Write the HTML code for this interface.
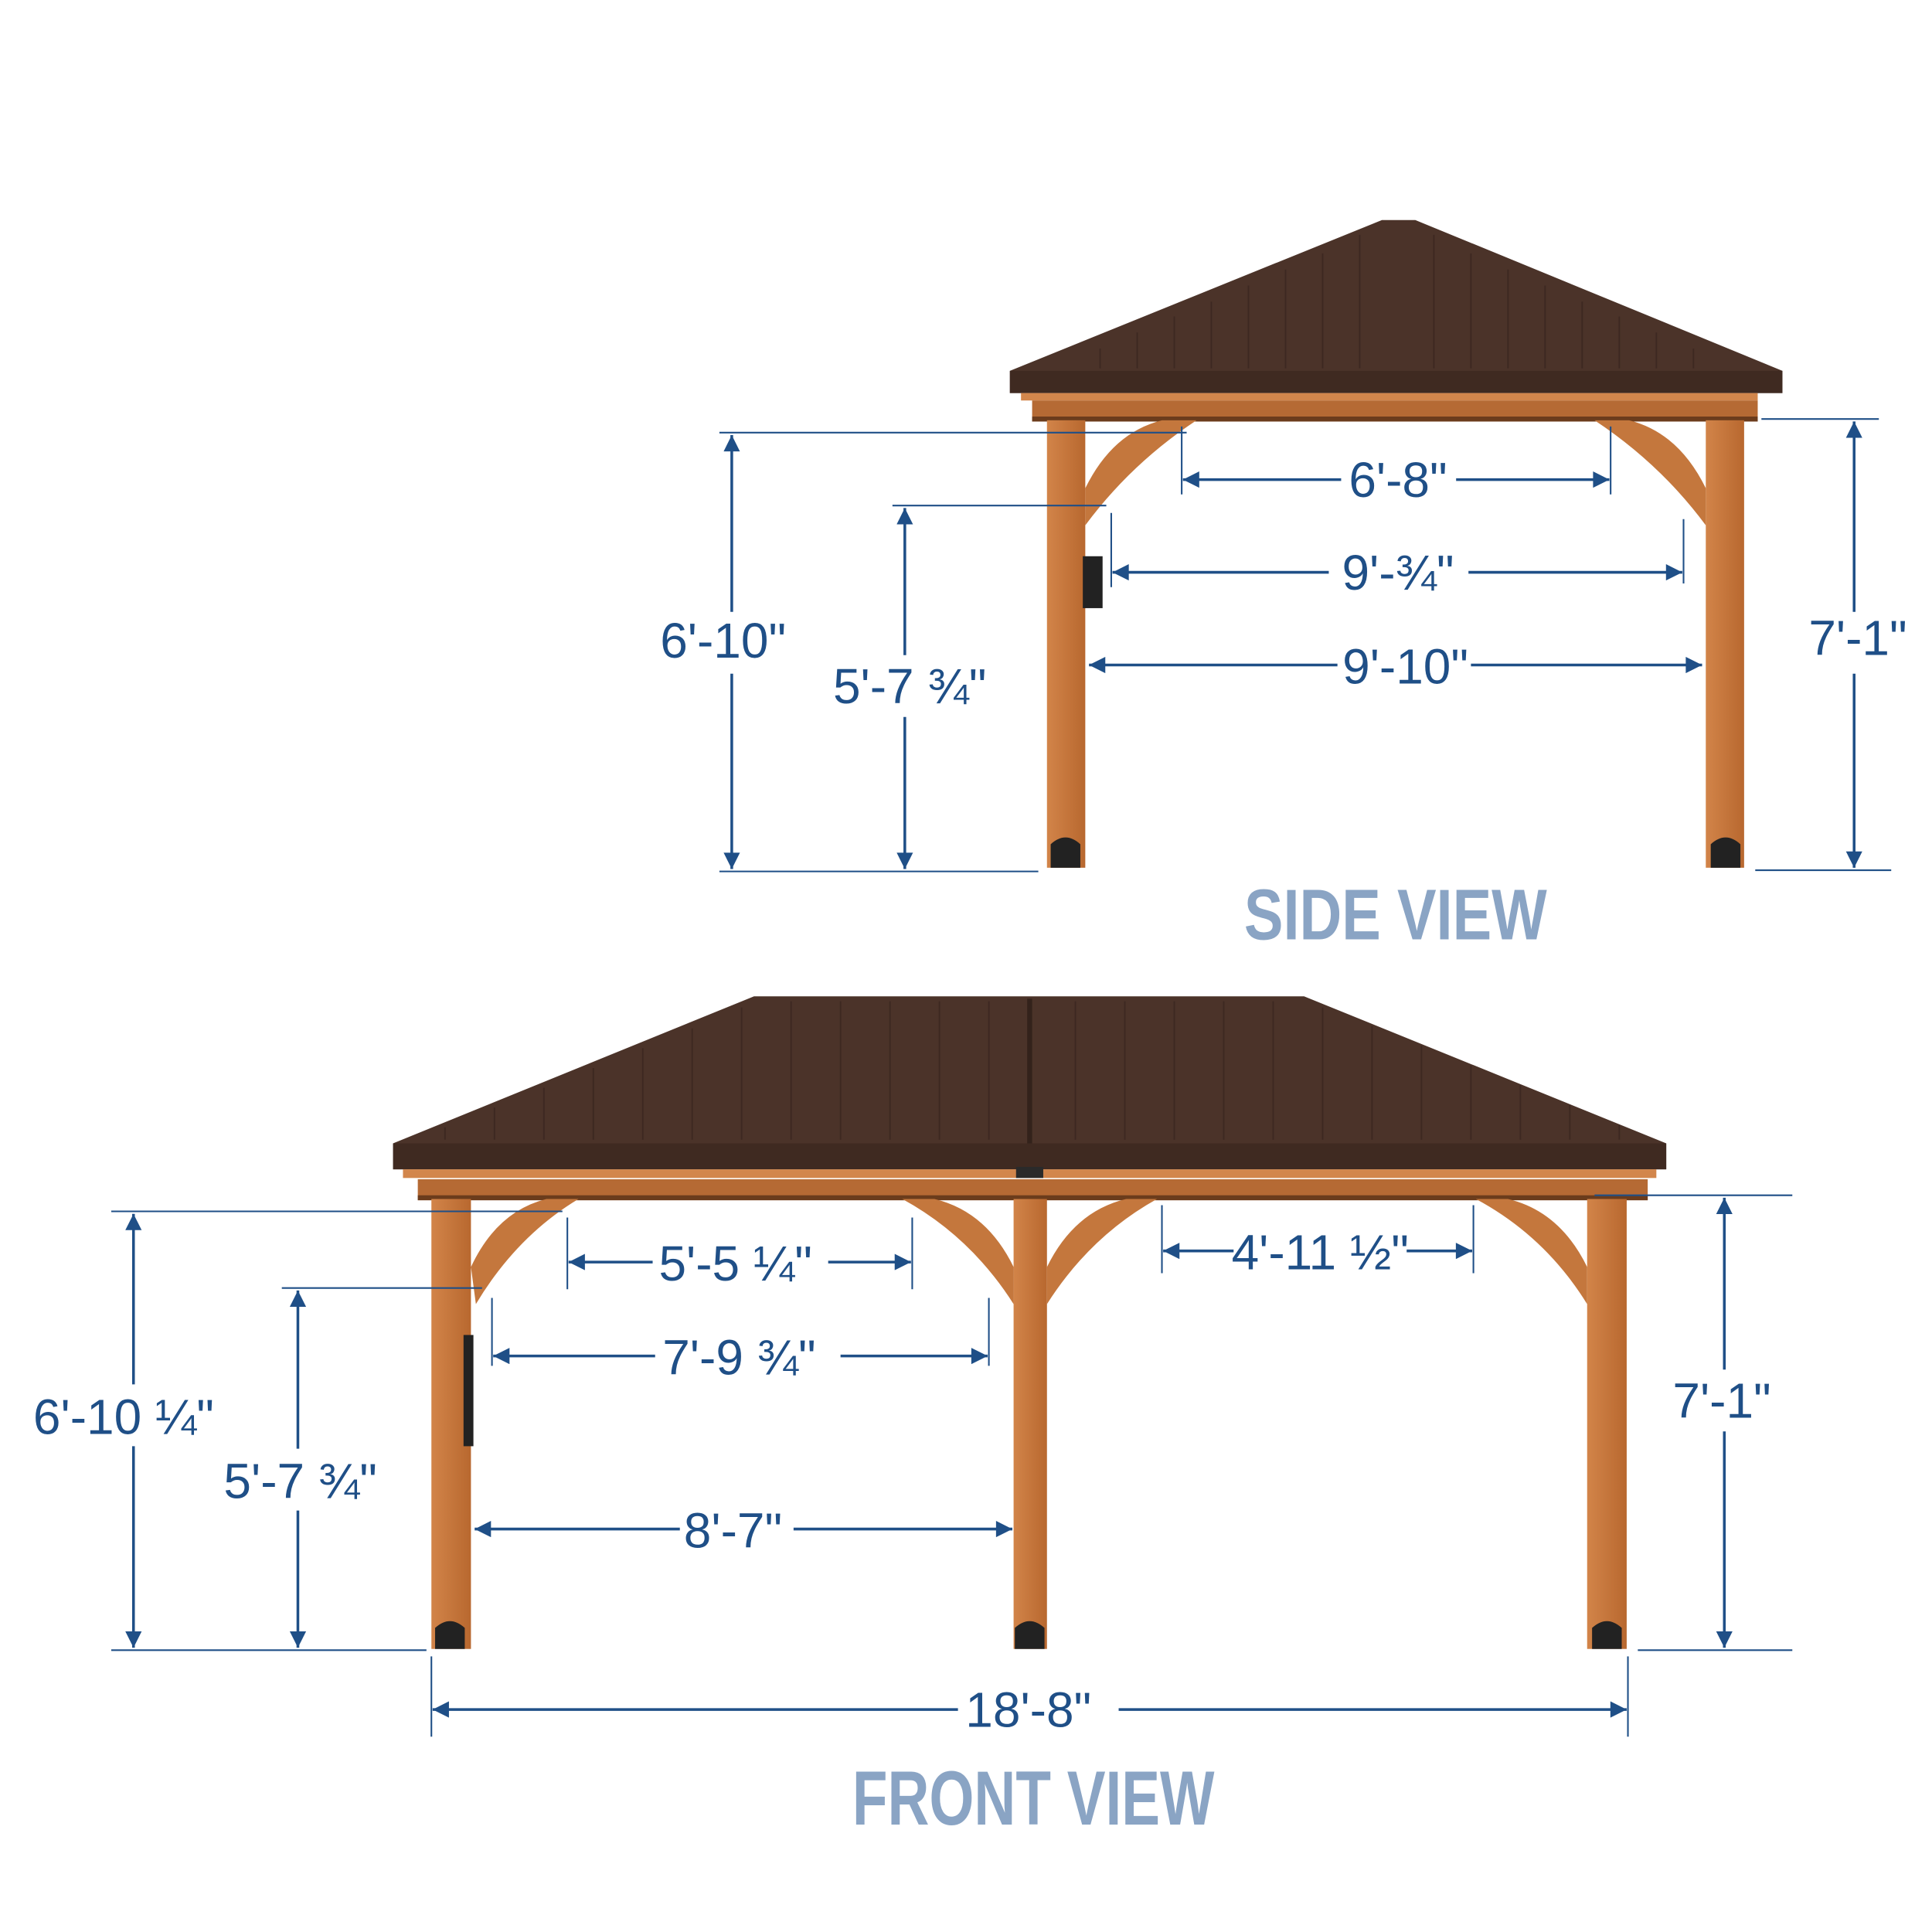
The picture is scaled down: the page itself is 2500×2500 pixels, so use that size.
<!DOCTYPE html>
<html><head><meta charset="utf-8"><style>
html,body{margin:0;padding:0;background:#fff;}
svg{display:block}
.d{font-family:"Liberation Sans Narrow","Liberation Sans",sans-serif;fill:#1f4f87;font-size:40px;text-anchor:middle}
.t{font-family:"Liberation Sans Narrow","Liberation Sans",sans-serif;font-weight:bold;fill:#8aa4c4;text-anchor:middle}
</style></head><body>
<svg width="2500" height="2500" viewBox="0 0 1563 1563" xmlns="http://www.w3.org/2000/svg">
<defs>
<marker id="a" viewBox="0 0 10 10" refX="10" refY="5" markerWidth="7" markerHeight="6" orient="auto-start-reverse"><path d="M0,0L10,5L0,10z" fill="#1f4f87"/></marker>
<linearGradient id="w" x1="0" x2="1"><stop offset="0" stop-color="#d28449"/><stop offset="1" stop-color="#b8682f"/></linearGradient>
</defs>

<!-- ============ SIDE VIEW ============ -->
<g>
<path d="M1118,178 L1145,178 L1442,300 L1442,318 L817,318 L817,300 Z" fill="#4b3329"/>
<path d="M817,300 L1442,300 L1442,318 L817,318Z" fill="#3f2a21"/>
<g stroke="#3a2620" stroke-width="1.2" opacity=".8">
<line x1="1100" y1="190" x2="1100" y2="298"/><line x1="1160" y1="190" x2="1160" y2="298"/>
<line x1="1070" y1="205" x2="1070" y2="298"/><line x1="1190" y1="205" x2="1190" y2="298"/>
<line x1="1040" y1="218" x2="1040" y2="298"/><line x1="1220" y1="218" x2="1220" y2="298"/>
<line x1="1010" y1="231" x2="1010" y2="298"/><line x1="1250" y1="231" x2="1250" y2="298"/>
<line x1="980" y1="244" x2="980" y2="298"/><line x1="1280" y1="244" x2="1280" y2="298"/>
<line x1="950" y1="256" x2="950" y2="298"/><line x1="1310" y1="256" x2="1310" y2="298"/>
<line x1="920" y1="269" x2="920" y2="298"/><line x1="1340" y1="269" x2="1340" y2="298"/>
<line x1="890" y1="282" x2="890" y2="298"/><line x1="1370" y1="282" x2="1370" y2="298"/>
</g>
<rect x="826" y="318" width="596" height="6" fill="#d2864c"/>
<rect x="835" y="324" width="587" height="17" fill="#b56a34"/>
<rect x="835" y="337" width="587" height="4" fill="#6b3c1c"/>
<rect x="847" y="340" width="31" height="362" fill="url(#w)"/>
<rect x="1380" y="340" width="31" height="362" fill="url(#w)"/>
<rect x="876" y="450" width="16" height="42" fill="#222"/>
<path d="M878,395 Q900,350 940,340 L968,340 Q915,375 878,425Z" fill="#c4773d"/>
<path d="M1380,395 Q1358,350 1318,340 L1290,340 Q1343,375 1380,425Z" fill="#c4773d"/>
<path d="M850,702 L850,683 Q862,672 874,683 L874,702Z" fill="#222"/>
<path d="M1384,702 L1384,683 Q1396,672 1408,683 L1408,702Z" fill="#222"/>
</g>

<g stroke="#1f4f87" stroke-width="1.3" fill="none">
<line x1="582" y1="350" x2="960" y2="350"/><line x1="582" y1="705" x2="840" y2="705"/>
<line x1="722" y1="409" x2="895" y2="409"/>
<line x1="1425" y1="339" x2="1520" y2="339"/><line x1="1420" y1="704" x2="1530" y2="704"/>
<line x1="956" y1="345" x2="956" y2="400"/><line x1="1303" y1="345" x2="1303" y2="400"/>
<line x1="899" y1="415" x2="899" y2="475"/><line x1="1362" y1="420" x2="1362" y2="472"/>
</g>
<g stroke="#1f4f87" stroke-width="2.2" fill="none">
<line x1="592" y1="352" x2="592" y2="495" marker-start="url(#a)"/><line x1="592" y1="545" x2="592" y2="703" marker-end="url(#a)"/>
<line x1="732" y1="411" x2="732" y2="530" marker-start="url(#a)"/><line x1="732" y1="580" x2="732" y2="703" marker-end="url(#a)"/>
<line x1="1500" y1="341" x2="1500" y2="495" marker-start="url(#a)"/><line x1="1500" y1="545" x2="1500" y2="702" marker-end="url(#a)"/>
<line x1="957" y1="388" x2="1085" y2="388" marker-start="url(#a)"/><line x1="1178" y1="388" x2="1302" y2="388" marker-end="url(#a)"/>
<line x1="900" y1="463" x2="1075" y2="463" marker-start="url(#a)"/><line x1="1188" y1="463" x2="1361" y2="463" marker-end="url(#a)"/>
<line x1="881" y1="538" x2="1082" y2="538" marker-start="url(#a)"/><line x1="1190" y1="538" x2="1377" y2="538" marker-end="url(#a)"/>
</g>
<text class="d" x="585" y="532">6'-10"</text>
<text class="d" x="736" y="569">5'-7 ¾"</text>
<text class="d" x="1503" y="530">7'-1"</text>
<text class="d" x="1131" y="402">6'-8"</text>
<text class="d" x="1131" y="477">9'-¾"</text>
<text class="d" x="1137" y="553">9'-10"</text>
<text class="t" x="1129" y="760" font-size="58" textLength="245" lengthAdjust="spacingAndGlyphs">SIDE VIEW</text>

<!-- ============ FRONT VIEW ============ -->
<g>
<path d="M610,806 L1055,806 L1348,925 L1348,946 L318,946 L318,925Z" fill="#4b3329"/>
<rect x="318" y="925" width="1030" height="21" fill="#3f2a21"/>
<g stroke="#3a2620" stroke-width="1.2" opacity=".8">
<line x1="833" y1="808" x2="833" y2="925" stroke-width="4" stroke="#2e1f18"/>
<line x1="640" y1="810" x2="640" y2="922"/><line x1="680" y1="810" x2="680" y2="922"/><line x1="720" y1="810" x2="720" y2="922"/><line x1="760" y1="810" x2="760" y2="922"/><line x1="800" y1="810" x2="800" y2="922"/>
<line x1="870" y1="810" x2="870" y2="922"/><line x1="910" y1="810" x2="910" y2="922"/><line x1="950" y1="810" x2="950" y2="922"/><line x1="990" y1="810" x2="990" y2="922"/><line x1="1030" y1="810" x2="1030" y2="922"/>
<line x1="600" y1="815" x2="600" y2="922"/><line x1="560" y1="832" x2="560" y2="922"/><line x1="520" y1="848" x2="520" y2="922"/><line x1="480" y1="864" x2="480" y2="922"/><line x1="440" y1="880" x2="440" y2="922"/><line x1="400" y1="896" x2="400" y2="922"/><line x1="360" y1="912" x2="360" y2="922"/>
<line x1="1070" y1="815" x2="1070" y2="922"/><line x1="1110" y1="830" x2="1110" y2="922"/><line x1="1150" y1="846" x2="1150" y2="922"/><line x1="1190" y1="862" x2="1190" y2="922"/><line x1="1230" y1="878" x2="1230" y2="922"/><line x1="1270" y1="894" x2="1270" y2="922"/><line x1="1310" y1="910" x2="1310" y2="922"/>
</g>
<rect x="326" y="946" width="1014" height="7" fill="#d2864c"/>
<rect x="822" y="944" width="22" height="9" fill="#2a2a2a"/>
<rect x="338" y="954" width="995" height="17" fill="#b56a34"/>
<rect x="338" y="967" width="995" height="4" fill="#6b3c1c"/>
<rect x="349" y="970" width="32" height="364" fill="url(#w)"/>
<rect x="820" y="970" width="27" height="364" fill="url(#w)"/>
<rect x="1284" y="970" width="32" height="364" fill="url(#w)"/>
<rect x="375" y="1080" width="8" height="90" fill="#222"/>
<path d="M381,1025 Q402,980 442,970 L468,970 Q418,1000 385,1055Z" fill="#c4773d"/>
<path d="M820,1025 Q798,980 756,970 L730,970 Q785,1000 820,1055Z" fill="#c4773d"/>
<path d="M847,1025 Q869,980 911,970 L936,970 Q882,1000 847,1055Z" fill="#c4773d"/>
<path d="M1284,1025 Q1262,980 1220,970 L1194,970 Q1250,1000 1284,1055Z" fill="#c4773d"/>
<path d="M352,1334 L352,1317 Q364,1306 376,1317 L376,1334Z" fill="#222"/>
<path d="M821,1334 L821,1317 Q833,1306 845,1317 L845,1334Z" fill="#222"/>
<path d="M1288,1334 L1288,1317 Q1300,1306 1312,1317 L1312,1334Z" fill="#222"/>
</g>

<g stroke="#1f4f87" stroke-width="1.3" fill="none">
<line x1="90" y1="980" x2="455" y2="980"/><line x1="90" y1="1335" x2="345" y2="1335"/>
<line x1="228" y1="1042" x2="390" y2="1042"/>
<line x1="1290" y1="967" x2="1450" y2="967"/><line x1="1325" y1="1335" x2="1450" y2="1335"/>
<line x1="459" y1="985" x2="459" y2="1043"/><line x1="738" y1="985" x2="738" y2="1043"/>
<line x1="940" y1="975" x2="940" y2="1030"/><line x1="1192" y1="975" x2="1192" y2="1030"/>
<line x1="398" y1="1050" x2="398" y2="1105"/><line x1="800" y1="1050" x2="800" y2="1105"/>
<line x1="349" y1="1340" x2="349" y2="1405"/><line x1="1317" y1="1340" x2="1317" y2="1405"/>
</g>
<g stroke="#1f4f87" stroke-width="2.2" fill="none">
<line x1="108" y1="982" x2="108" y2="1120" marker-start="url(#a)"/><line x1="108" y1="1170" x2="108" y2="1333" marker-end="url(#a)"/>
<line x1="241" y1="1044" x2="241" y2="1172" marker-start="url(#a)"/><line x1="241" y1="1222" x2="241" y2="1333" marker-end="url(#a)"/>
<line x1="1395" y1="969" x2="1395" y2="1108" marker-start="url(#a)"/><line x1="1395" y1="1158" x2="1395" y2="1333" marker-end="url(#a)"/>
<line x1="460" y1="1021" x2="528" y2="1021" marker-start="url(#a)"/><line x1="670" y1="1021" x2="737" y2="1021" marker-end="url(#a)"/>
<line x1="941" y1="1012" x2="998" y2="1012" marker-start="url(#a)"/><line x1="1138" y1="1012" x2="1191" y2="1012" marker-end="url(#a)"/>
<line x1="399" y1="1097" x2="530" y2="1097" marker-start="url(#a)"/><line x1="680" y1="1097" x2="799" y2="1097" marker-end="url(#a)"/>
<line x1="384" y1="1237" x2="550" y2="1237" marker-start="url(#a)"/><line x1="642" y1="1237" x2="819" y2="1237" marker-end="url(#a)"/>
<line x1="350" y1="1383" x2="775" y2="1383" marker-start="url(#a)"/><line x1="905" y1="1383" x2="1316" y2="1383" marker-end="url(#a)"/>
</g>
<text class="d" x="100" y="1160">6'-10 ¼"</text>
<text class="d" x="243" y="1212">5'-7 ¾"</text>
<text class="d" x="1393" y="1147">7'-1"</text>
<text class="d" x="595" y="1036">5'-5 ¼"</text>
<text class="d" x="1068" y="1027">4'-11 ½"</text>
<text class="d" x="598" y="1112">7'-9 ¾"</text>
<text class="d" x="593" y="1252">8'-7"</text>
<text class="d" x="832" y="1397">18'-8"</text>
<text class="t" x="836" y="1476" font-size="62" textLength="293" lengthAdjust="spacingAndGlyphs">FRONT VIEW</text>
</svg>
</body></html>
